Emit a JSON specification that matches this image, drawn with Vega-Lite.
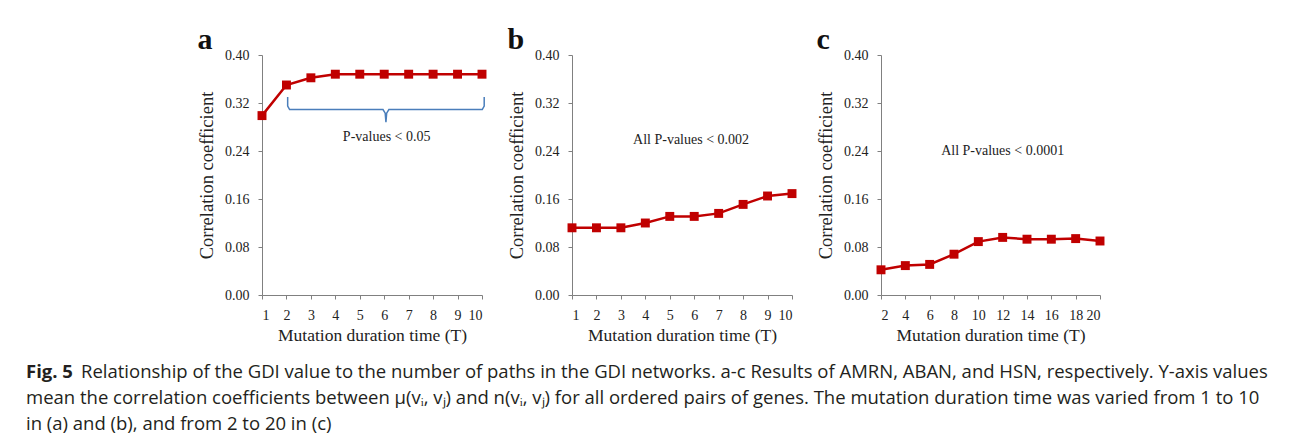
{
  "$schema": "https://vega.github.io/schema/vega-lite/v6.json",
  "background": "white",
  "padding": {"left": 26, "top": 25, "right": 4, "bottom": 0},
  "config": {
    "view": {"stroke": null},
    "font": "Liberation Serif",
    "axis": {"domainColor": "#808080", "tickColor": "#808080", "grid": false, "labelFont": "Liberation Serif", "labelFontSize": 14, "labelColor": "#222222", "titleFont": "Liberation Serif", "titleFontSize": 17.5, "titleFontWeight": "normal", "titleColor": "#222222", "tickSize": 4, "labelPadding": 9},
    "axisY": {"titlePadding": 8, "titleFontSize": 18.5},
    "axisX": {"titlePadding": 4},
    "title": {"font": "Liberation Serif", "fontSize": 30, "fontWeight": "bold", "anchor": "start", "frame": "bounds", "color": "#111111", "offset": -7}
  },
  "datasets": {
    "a": [
      {"T": 1, "r": 0.299}, {"T": 2, "r": 0.350}, {"T": 3, "r": 0.362}, {"T": 4, "r": 0.368}, {"T": 5, "r": 0.368},
      {"T": 6, "r": 0.368}, {"T": 7, "r": 0.368}, {"T": 8, "r": 0.368}, {"T": 9, "r": 0.368}, {"T": 10, "r": 0.368}
    ],
    "b": [
      {"T": 1, "r": 0.112}, {"T": 2, "r": 0.112}, {"T": 3, "r": 0.112}, {"T": 4, "r": 0.120}, {"T": 5, "r": 0.131},
      {"T": 6, "r": 0.131}, {"T": 7, "r": 0.136}, {"T": 8, "r": 0.151}, {"T": 9, "r": 0.165}, {"T": 10, "r": 0.169}
    ],
    "c": [
      {"T": 2, "r": 0.042}, {"T": 4, "r": 0.049}, {"T": 6, "r": 0.051}, {"T": 8, "r": 0.068}, {"T": 10, "r": 0.089},
      {"T": 12, "r": 0.096}, {"T": 14, "r": 0.093}, {"T": 16, "r": 0.093}, {"T": 18, "r": 0.094}, {"T": 20, "r": 0.090}
    ],
    "bracket": [
      {"i": 1, "T": 2.05, "r": 0.330}, {"i": 2, "T": 2.05, "r": 0.315}, {"i": 3, "T": 2.13, "r": 0.309},
      {"i": 4, "T": 5.95, "r": 0.309}, {"i": 5, "T": 6.04, "r": 0.303}, {"i": 6, "T": 6.07, "r": 0.288},
      {"i": 7, "T": 6.10, "r": 0.303}, {"i": 8, "T": 6.19, "r": 0.309}, {"i": 9, "T": 10.01, "r": 0.309},
      {"i": 10, "T": 10.09, "r": 0.315}, {"i": 11, "T": 10.09, "r": 0.330}
    ],
    "caption": [
      {"line": 1, "part": "head", "text": "Fig. 5"},
      {"line": 1, "part": "rest", "text": "Relationship of the GDI value to the number of paths in the GDI networks. a-c Results of AMRN, ABAN, and HSN, respectively. Y-axis values"},
      {"line": 2, "part": "body", "text": "mean the correlation coefficients between μ(vᵢ, vⱼ) and n(vᵢ, vⱼ) for all ordered pairs of genes. The mutation duration time was varied from 1 to 10"},
      {"line": 3, "part": "body", "text": "in (a) and (b), and from 2 to 20 in (c)"}
    ]
  },
  "vconcat": [
    {
      "hconcat": [
        {
          "width": 152, "height": 240,
          "data": {"values": []},
          "mark": {"type": "point", "opacity": 0}
        },
        {
          "title": {"text": "a"},
          "width": 220, "height": 240,
          "encoding": {
            "x": {"field": "T", "type": "quantitative", "title": "Mutation duration time (T)", "scale": {"domain": [1, 10], "nice": false, "zero": false}, "axis": {"values": [1, 2, 3, 4, 5, 6, 7, 8, 9, 10], "format": "d"}},
            "y": {"field": "r", "type": "quantitative", "title": "Correlation coefficient", "scale": {"domain": [0, 0.4], "nice": false}, "axis": {"values": [0, 0.08, 0.16, 0.24, 0.32, 0.4], "format": ".2f"}}
          },
          "layer": [
            {"data": {"name": "bracket"}, "mark": {"type": "line", "color": "#4a7ebb", "strokeWidth": 1.5}, "encoding": {"order": {"field": "i"}}},
            {"data": {"name": "a"}, "mark": {"type": "line", "color": "#C00000", "strokeWidth": 2.5}},
            {"data": {"name": "a"}, "mark": {"type": "point", "shape": "square", "filled": true, "size": 80, "color": "#C00000", "opacity": 1}},
            {"data": {"values": [{"T": 6.1, "r": 0.263, "label": "P-values < 0.05"}]}, "mark": {"type": "text", "font": "Liberation Serif", "fontSize": 14, "color": "#222222"}, "encoding": {"text": {"field": "label"}}}
          ]
        },
        {
          "title": {"text": "b"},
          "width": 220, "height": 240,
          "encoding": {
            "x": {"field": "T", "type": "quantitative", "title": "Mutation duration time (T)", "scale": {"domain": [1, 10], "nice": false, "zero": false}, "axis": {"values": [1, 2, 3, 4, 5, 6, 7, 8, 9, 10], "format": "d"}},
            "y": {"field": "r", "type": "quantitative", "title": "Correlation coefficient", "scale": {"domain": [0, 0.4], "nice": false}, "axis": {"values": [0, 0.08, 0.16, 0.24, 0.32, 0.4], "format": ".2f"}}
          },
          "layer": [
            {"data": {"name": "b"}, "mark": {"type": "line", "color": "#C00000", "strokeWidth": 2.5}},
            {"data": {"name": "b"}, "mark": {"type": "point", "shape": "square", "filled": true, "size": 80, "color": "#C00000", "opacity": 1}},
            {"data": {"values": [{"T": 5.87, "r": 0.259, "label": "All P-values < 0.002"}]}, "mark": {"type": "text", "font": "Liberation Serif", "fontSize": 14, "color": "#222222"}, "encoding": {"text": {"field": "label"}}}
          ]
        },
        {
          "title": {"text": "c"},
          "width": 219, "height": 240,
          "encoding": {
            "x": {"field": "T", "type": "quantitative", "title": "Mutation duration time (T)", "scale": {"domain": [2, 20], "nice": false, "zero": false}, "axis": {"values": [2, 4, 6, 8, 10, 12, 14, 16, 18, 20], "format": "d"}},
            "y": {"field": "r", "type": "quantitative", "title": "Correlation coefficient", "scale": {"domain": [0, 0.4], "nice": false}, "axis": {"values": [0, 0.08, 0.16, 0.24, 0.32, 0.4], "format": ".2f"}}
          },
          "layer": [
            {"data": {"name": "c"}, "mark": {"type": "line", "color": "#C00000", "strokeWidth": 2.5}},
            {"data": {"name": "c"}, "mark": {"type": "point", "shape": "square", "filled": true, "size": 80, "color": "#C00000", "opacity": 1}},
            {"data": {"values": [{"T": 12.0, "r": 0.240, "label": "All P-values < 0.0001"}]}, "mark": {"type": "text", "font": "Liberation Serif", "fontSize": 14, "color": "#222222"}, "encoding": {"text": {"field": "label"}}}
          ]
        }
      ],
      "spacing": 19
    },
    {
      "width": 1250, "height": 78,
      "data": {"name": "caption"},
      "encoding": {
        "y": {"field": "line", "type": "ordinal", "axis": null, "scale": {"type": "point", "padding": 0.5}},
        "x": {"value": 0},
        "text": {"field": "text"}
      },
      "layer": [
        {"transform": [{"filter": "datum.part === 'head'"}], "mark": {"type": "text", "align": "left", "baseline": "alphabetic", "font": "Open Sans", "fontSize": 18.5, "fontWeight": "bold", "color": "#231f20"}},
        {"transform": [{"filter": "datum.part === 'rest'"}], "mark": {"type": "text", "align": "left", "baseline": "alphabetic", "font": "Open Sans", "fontSize": 18.5, "color": "#231f20", "dx": 55}},
        {"transform": [{"filter": "datum.part === 'body'"}], "mark": {"type": "text", "align": "left", "baseline": "alphabetic", "font": "Open Sans", "fontSize": 18.5, "color": "#231f20"}}
      ]
    }
  ],
  "spacing": 19
}
